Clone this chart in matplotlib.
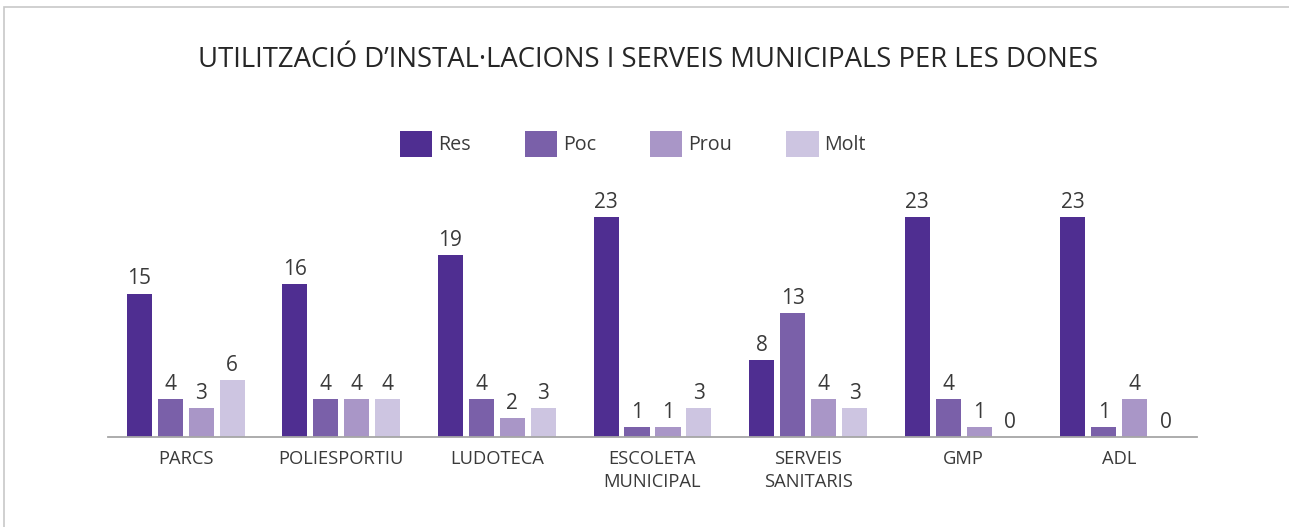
import numpy as np
import matplotlib.pyplot as plt
from matplotlib.patches import Rectangle

categories = ["PARCS", "POLIESPORTIU", "LUDOTECA", "ESCOLETA\nMUNICIPAL",
              "SERVEIS\nSANITARIS", "GMP", "ADL"]
series_names = ["Res", "Poc", "Prou", "Molt"]
res = [15, 16, 19, 23, 8, 23, 23]
poc = [4, 4, 4, 1, 13, 4, 1]
prou = [3, 4, 2, 1, 4, 1, 4]
molt = [6, 4, 3, 3, 3, 0, 0]

colors = ["#4f2e91", "#7a60a9", "#a996c7", "#cdc5e1"]
title = "UTILITZACIÓ D’INSTAL·LACIONS I SERVEIS MUNICIPALS PER LES DONES"

plt.rcParams["font.family"] = ["Open Sans", "DejaVu Sans"]

W, H = 1289, 527
fig = plt.figure(figsize=(W / 100, H / 100), dpi=100)

# light frame around the chart area
fig.patches.append(Rectangle((4 / W, -0.1), 1.2, (H - 7) / H + 0.1,
                             transform=fig.transFigure, fill=False,
                             edgecolor="#c8c8c8", linewidth=1.2))

ymax = 25
px_per_unit = 220 / 23
ax_h = ymax * px_per_unit
ax = fig.add_axes([108 / W, 90 / H, (1197 - 108) / W, ax_h / H])

x = np.arange(len(categories))
bw = 0.161
step = 0.199
values = [res, poc, prou, molt]
handles = []
for i, (name, vals) in enumerate(zip(series_names, values)):
    pos = x + (i - 1.5) * step
    b = ax.bar(pos, vals, width=bw, color=colors[i], label=name)
    handles.append(b)
    for p, v in zip(pos, vals):
        ax.text(p, v + 0.95, str(v), ha="center", va="baseline",
                fontsize=15, color="#3a3a3a")

ax.set_xlim(-0.5, len(categories) - 0.5)
ax.set_ylim(0, ymax)
ax.set_yticks([])
ax.set_xticks(x)
ax.set_xticklabels(categories, fontsize=13.2, color="#3a3a3a", linespacing=1.4)
ax.tick_params(axis="x", length=0, pad=9)
for s in ["top", "right", "left"]:
    ax.spines[s].set_visible(False)
ax.spines["bottom"].set_color("#a6a6a6")
ax.spines["bottom"].set_linewidth(1.3)

fig.text(648 / W, 1 - 60 / H, title, ha="center", va="center",
         fontsize=19.8, color="#262626")

fig.legend(handles=handles, labels=series_names, loc="center",
           bbox_to_anchor=(633 / W, 1 - 144 / H), ncol=4, frameon=False,
           fontsize=14.2, handlelength=1.63, handleheight=1.63,
           handletextpad=0.3, columnspacing=2.75, labelcolor="#3a3a3a")

fig.savefig("out.png", dpi=100)
